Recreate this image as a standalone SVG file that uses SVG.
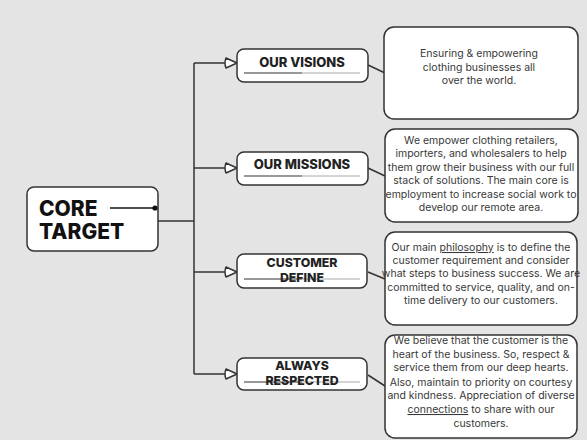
<svg xmlns="http://www.w3.org/2000/svg" width="587" height="440" viewBox="0 0 587 440">
<style>
.bg{fill:#e4e4e4}
.box{fill:#fff;stroke:#333;stroke-width:1.5}
.ln{fill:none;stroke:#333;stroke-width:1.5}
.ah{fill:#fff;stroke:#333;stroke-width:1.5;stroke-linejoin:round}
.core{font-family:Inter,"Liberation Sans",sans-serif;font-weight:800;font-size:21px;fill:#111}
.lbl{font-family:Inter,"Liberation Sans",sans-serif;font-weight:800;font-size:13px;fill:#222;text-anchor:middle}
.lbl2{font-family:Inter,"Liberation Sans",sans-serif;font-weight:800;font-size:12.3px;fill:#222;text-anchor:middle}
.txt{font-family:Inter,"Liberation Sans",sans-serif;font-size:10.5px;fill:#383838;text-anchor:middle}
.ul1{stroke:#333;stroke-width:1.2}
.ul2{stroke:#aaa;stroke-width:1.2}
</style>
<rect class="bg" x="0" y="0" width="587" height="440"/>
<g id="connectors">
<path class="ln" d="M158 221 H194 M194 63 V374 M194 63 H226 M194 168 H226 M194 272 H226 M194 374 H226"/>
<path class="ah" d="M226 58 L237 63 L226 68 Q224 63 226 58 Z"/>
<path class="ah" d="M226 163 L237 168 L226 173 Q224 168 226 163 Z"/>
<path class="ah" d="M226 267 L237 272 L226 277 Q224 272 226 267 Z"/>
<path class="ah" d="M226 369 L237 374 L226 379 Q224 374 226 369 Z"/>
<path class="ln" d="M368 65 L385 73 M368 168 L385 176 M368 272 L385 279 M368 375 L385 386"/>
</g>
<g id="core">
<rect class="box" x="27" y="187" width="131" height="64" rx="7"/>
<text class="core" x="39" y="216">CORE</text>
<text class="core" x="39" y="239">TARGET</text>
<line x1="110" y1="208" x2="155" y2="208" stroke="#111" stroke-width="1.5"/>
<circle cx="155" cy="208" r="2.6" fill="#111"/>
</g>
<g id="visions">
<rect class="box" x="237" y="49" width="131" height="33" rx="7"/>
<text class="lbl" x="302" y="67">OUR VISIONS</text>
<line class="ul1" x1="244" y1="73" x2="302" y2="73"/><line class="ul2" x1="302" y1="73" x2="360" y2="73"/>
</g>
<g id="missions">
<rect class="box" x="237" y="152" width="131" height="33" rx="7"/>
<text class="lbl" x="302" y="169">OUR MISSIONS</text>
<line class="ul1" x1="244" y1="176" x2="302" y2="176"/><line class="ul2" x1="302" y1="176" x2="360" y2="176"/>
</g>
<g id="customer">
<rect class="box" x="237" y="254" width="130" height="34" rx="7"/>
<line class="ul1" x1="244" y1="279" x2="302" y2="279"/><line class="ul2" x1="302" y1="279" x2="360" y2="279"/>
<text class="lbl2" x="302" y="266.5">CUSTOMER</text>
<text class="lbl2" x="302" y="281.5">DEFINE</text>
</g>
<g id="always">
<rect class="box" x="237" y="358" width="130" height="32" rx="7"/>
<line class="ul1" x1="244" y1="382" x2="302" y2="382"/><line class="ul2" x1="302" y1="382" x2="360" y2="382"/>
<text class="lbl2" x="302" y="369.5">ALWAYS</text>
<text class="lbl2" x="302" y="384.5">RESPECTED</text>
</g>
<g id="d1">
<rect class="box" x="384" y="27" width="194" height="92" rx="10"/>
<text class="txt" x="479" y="57">Ensuring &amp; empowering</text>
<text class="txt" x="479" y="71">clothing businesses all</text>
<text class="txt" x="479" y="84">over the world.</text>
</g>
<g id="d2">
<rect class="box" x="385" y="129" width="193" height="93" rx="10"/>
<text class="txt" x="481" y="144">We empower clothing retailers,</text>
<text class="txt" x="481" y="157.4">importers, and wholesalers to help</text>
<text class="txt" x="481" y="170.8">them grow their business with our full</text>
<text class="txt" x="481" y="184.2">stack of solutions. The main core is</text>
<text class="txt" x="481" y="197.6">employment to increase social work to</text>
<text class="txt" x="481" y="211">develop our remote area.</text>
</g>
<g id="d3">
<rect class="box" x="385" y="232" width="192" height="93" rx="10"/>
<text class="txt" x="481" y="251">Our main <tspan text-decoration="underline">philosophy</tspan> is to define the</text>
<text class="txt" x="481" y="264">customer requirement and consider</text>
<text class="txt" x="481" y="277">what steps to business success. We are</text>
<text class="txt" x="481" y="291">committed to service, quality, and on-</text>
<text class="txt" x="481" y="304">time delivery to our customers.</text>
</g>
<g id="d4">
<rect class="box" x="385" y="335" width="192" height="103" rx="10"/>
<text class="txt" x="481" y="344">We believe that the customer is the</text>
<text class="txt" x="481" y="358">heart of the business. So, respect &amp;</text>
<text class="txt" x="481" y="371">service them from our deep hearts.</text>
<text class="txt" x="481" y="386">Also, maintain to priority on courtesy</text>
<text class="txt" x="481" y="399">and kindness. Appreciation of diverse</text>
<text class="txt" x="481" y="413"><tspan text-decoration="underline">connections</tspan> to share with our</text>
<text class="txt" x="481" y="427">customers.</text>
</g>
</svg>
